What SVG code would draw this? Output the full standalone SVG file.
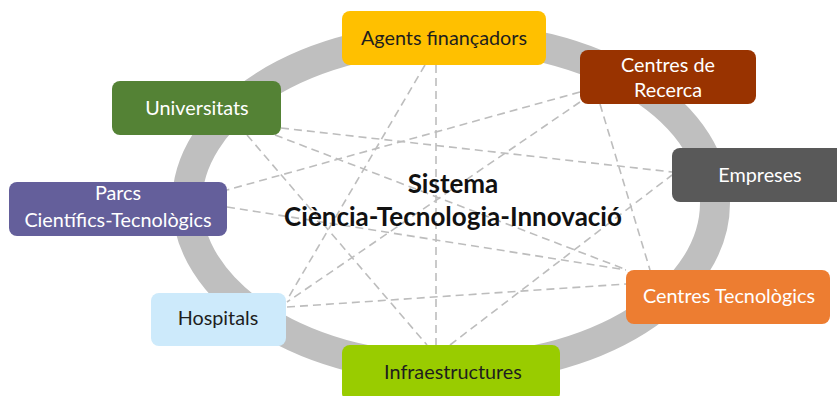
<svg xmlns="http://www.w3.org/2000/svg" width="837" height="396" viewBox="0 0 837 396">
<style>
.ring{fill:none;stroke:#bfbfbf;stroke-width:30}
.c line{stroke:#bdbdbd;stroke-width:1.6;stroke-dasharray:8 5;fill:none}
.box{rx:8;ry:8}
.t{font-family:Lato,"Open Sans","Liberation Sans",sans-serif;font-size:19.8px;text-anchor:middle}
.w{fill:#ffffff}
.d{fill:#1e1e1e}
.title{font-family:Lato,"Open Sans","Liberation Sans",sans-serif;font-size:26px;font-weight:bold;text-anchor:middle;fill:#111111}
</style>
<rect width="837" height="396" fill="#ffffff"/>
<ellipse class="ring" cx="451" cy="203" rx="264" ry="166"/>
<g id="connectors" class="c">
<line x1="436" y1="65" x2="436" y2="345"/>
<line x1="425" y1="65" x2="287" y2="300"/>
<line x1="580" y1="102" x2="287" y2="302"/>
<line x1="580" y1="92" x2="227" y2="190"/>
<line x1="600" y1="104" x2="650" y2="270"/>
<line x1="281" y1="128" x2="672" y2="172"/>
<line x1="275" y1="135" x2="627" y2="270"/>
<line x1="247" y1="135" x2="427" y2="345"/>
<line x1="227" y1="207" x2="626" y2="270"/>
<line x1="287" y1="307" x2="626" y2="284"/>
<line x1="450" y1="345" x2="672" y2="175"/>
</g>
<g id="title">
<text class="title" x="453" y="193">Sistema</text>
<text class="title" x="453" y="226">Ciència-Tecnologia-Innovació</text>
</g>
<g id="agents">
<rect class="box" x="342" y="11" width="204" height="54" fill="#ffc000"/>
<text class="t d" x="444" y="45">Agents finançadors</text>
</g>
<g id="recerca">
<rect class="box" x="580" y="50" width="176" height="54" fill="#993300"/>
<text class="t w" x="668" y="72">Centres de</text>
<text class="t w" x="668" y="97">Recerca</text>
</g>
<g id="empreses">
<rect class="box" x="672" y="148" width="178" height="54" fill="#595959"/>
<text class="t w" x="760" y="182">Empreses</text>
</g>
<g id="universitats">
<rect class="box" x="112" y="81" width="169" height="54" fill="#548235"/>
<text class="t w" x="197" y="115">Universitats</text>
</g>
<g id="parcs">
<rect class="box" x="9" y="182" width="218" height="54" fill="#645f9b"/>
<text class="t w" x="118" y="200">Parcs</text>
<text class="t w" x="118" y="227">Científics-Tecnològics</text>
</g>
<g id="hospitals">
<rect class="box" x="151" y="293" width="135" height="53" fill="#cdeafb"/>
<text class="t d" x="218" y="325">Hospitals</text>
</g>
<g id="infraestructures">
<rect class="box" x="342" y="345" width="218" height="56" fill="#99cc00"/>
<text class="t d" x="453" y="379">Infraestructures</text>
</g>
<g id="tecnologics">
<rect class="box" x="626" y="270" width="204" height="54" fill="#ed7d31"/>
<text class="t w" x="729" y="303">Centres Tecnològics</text>
</g>
</svg>
